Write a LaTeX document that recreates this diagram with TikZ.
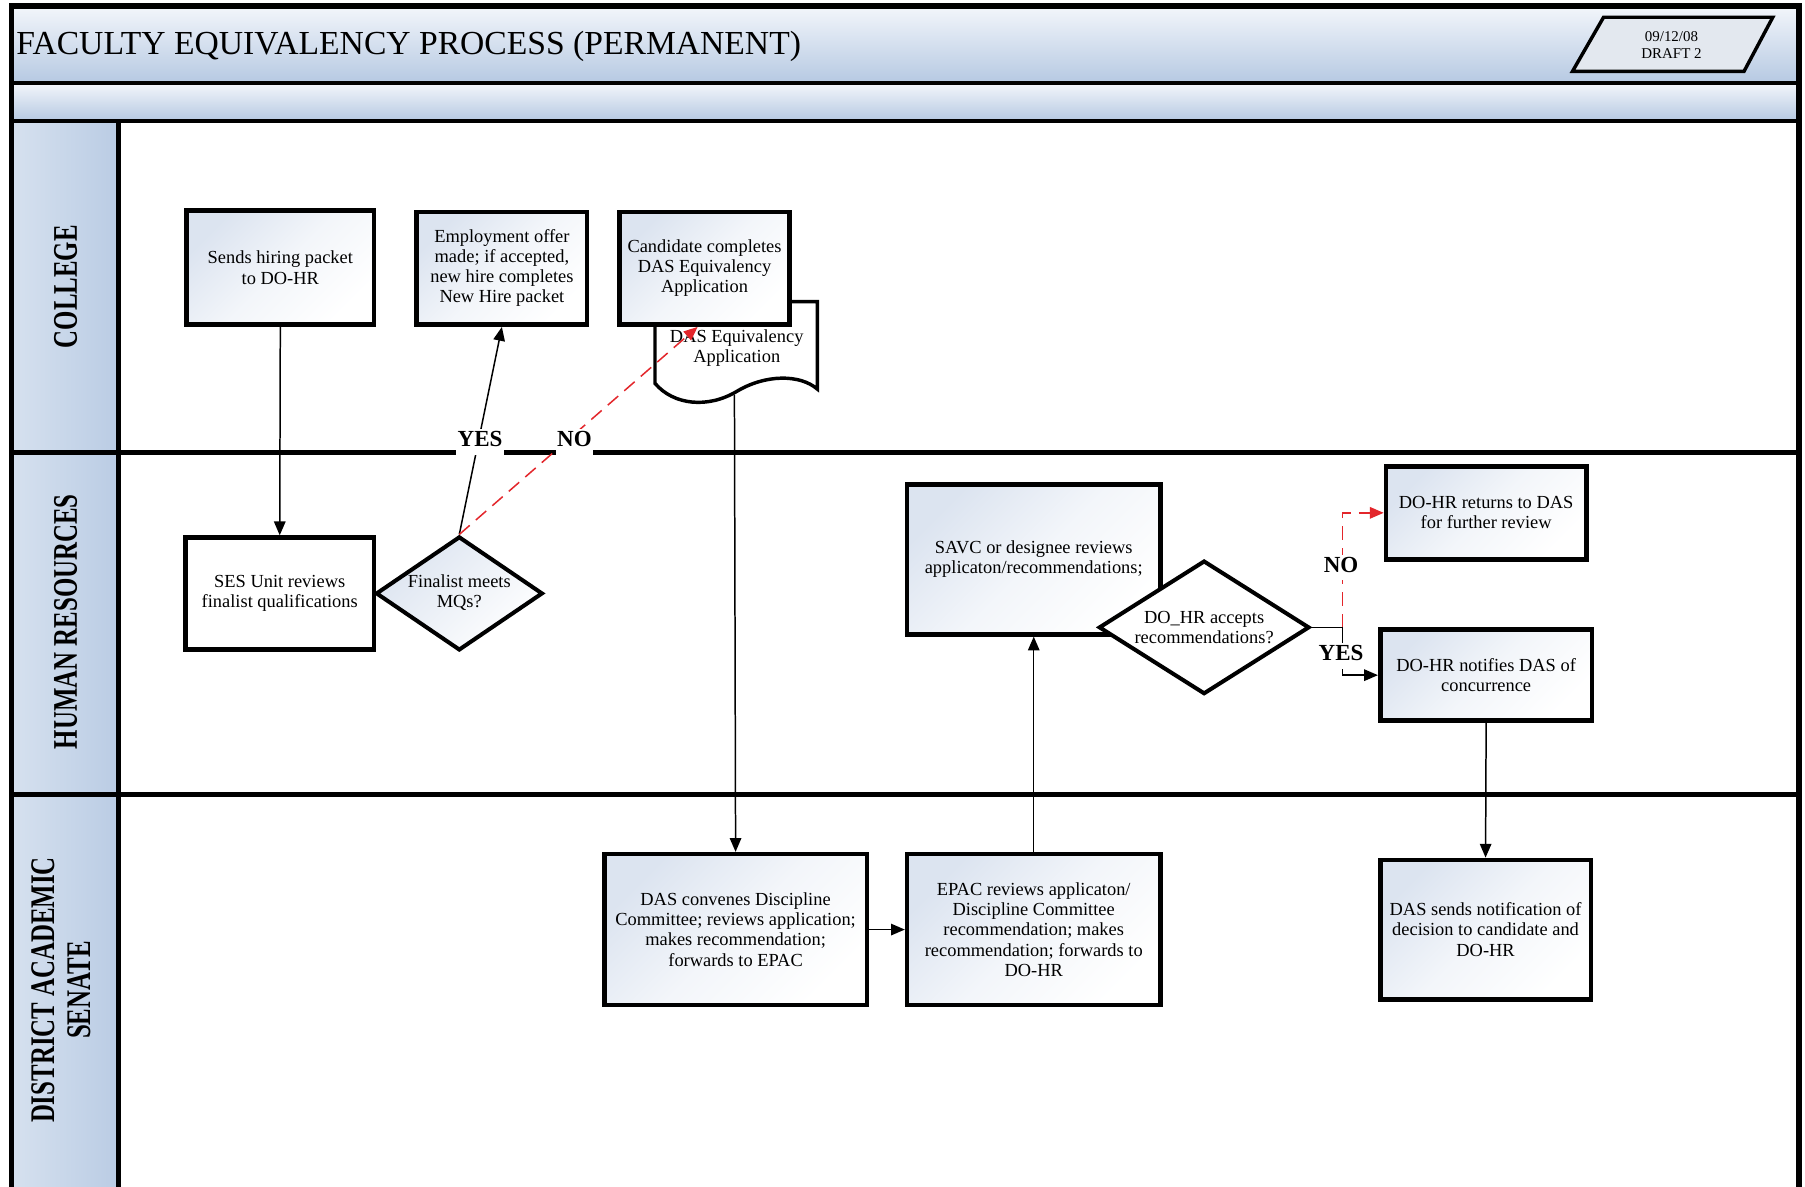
\documentclass[tikz,border=0pt]{standalone}
\usepackage{fontspec}
\setmainfont{Liberation Serif}
\usetikzlibrary{shapes.geometric,arrows.meta,calc}

\definecolor{bandlight}{HTML}{F3F6FB}
\definecolor{banddark}{HTML}{B6C9E2}
\definecolor{lanelight}{HTML}{D6E1EF}
\definecolor{lanedark}{HTML}{BACCE4}
\definecolor{boxtint}{HTML}{DCE4F0}
\definecolor{flowred}{HTML}{E3262B}
\definecolor{datefill}{HTML}{E3E8EF}

\tikzset{
  procbox/.style={draw=black, line width=4pt, top color=boxtint, bottom color=white,
    middle color=boxtint!35, shading angle=45, align=center, inner sep=2pt,
    font=\fontsize{16}{17.5}\selectfont},
  decision/.style={draw=black, line width=3.5pt, diamond, inner sep=0pt,
    top color=boxtint, bottom color=white, shading angle=45},
  boxtext/.style={align=center, inner sep=0pt, font=\fontsize{16}{17.5}\selectfont},
  flow/.style={line width=1.3pt, -{Triangle[length=12pt,width=10pt]}},
  noflow/.style={flow, draw=flowred, dash pattern=on 12pt off 7pt},
  answer/.style={fill=white, inner xsep=1pt, inner ysep=2pt, text depth=5pt,
    anchor=base, font=\fontsize{20}{20}\selectfont\bfseries},
  lanetitle/.style={rotate=90, align=center, inner sep=0pt,
    font=\fontsize{30}{28}\selectfont\bfseries},
  rule/.style={line width=4pt},
}

\begin{document}
\begin{tikzpicture}[x=1pt, y=-1pt]
\useasboundingbox (0,0) rectangle (1568,1031);
\clip (0,0) rectangle (1568,1031);

% background and header bands
\fill[white] (0,0) rectangle (1568,1031);
\shade[top color=bandlight, bottom color=banddark] (10,5) rectangle (1563,72);
\shade[top color=bandlight, bottom color=banddark] (10,72) rectangle (1563,105);
\shade[left color=lanelight, right color=lanedark] (10,105) rectangle (103,1045);

% frame and lane rules
\draw[rule] (10,72) -- (1563,72);
\draw[rule] (10,105) -- (1563,105);
\draw[rule] (10,393) -- (1563,393);
\draw[rule] (10,690) -- (1563,690);
\draw[line width=5pt] (103,105) -- (103,1045);
\draw[line width=5pt] (10,1045) -- (10,5) -- (1563,5) -- (1563,1045);

% title and date tag
\node[anchor=west, inner sep=0pt, font=\fontsize{29.2}{30}\selectfont] (title)
  at (14,40) {FACULTY EQUIVALENCY PROCESS (PERMANENT)};
\draw[line width=3pt, fill=datefill] (1393,15) -- (1540,15) -- (1515,62) -- (1366,62) -- cycle;
\node[align=center, inner sep=0pt, font=\fontsize{13}{15}\selectfont] (date)
  at (1452,39) {09/12/08\\DRAFT 2};

% lane titles
\node[lanetitle] (lcollege) at (57,249) {\scalebox{0.72}[1]{COLLEGE}};
\node[lanetitle] (lhr) at (57,540) {\scalebox{0.72}[1]{HUMAN RESOURCES}};
\node[lanetitle] (ldas) at (57,860)
  {\scalebox{0.72}[1]{\begin{tabular}{@{}c@{}}DISTRICT ACADEMIC\\[3pt]SENATE\end{tabular}}};

% document shape behind the candidate box
\draw[line width=3pt, fill=white] (569,262) -- (710,262) -- (710,338)
  .. controls (695,325) and (665,325) .. (640,340)
  .. controls (615,355) and (585,352) .. (569,333) -- cycle;
\node[boxtext] (doc) at (640,302) {DAS Equivalency\\Application};
\coordinate (docbot) at (638,343);

% college lane
\node[procbox, minimum width=163, minimum height=99] (hire) at (243.5,232.5)
  {Sends hiring packet\\to DO-HR};
\node[procbox, minimum width=148, minimum height=98] (offer) at (436,233)
  {Employment offer\\made; if accepted,\\new hire completes\\New Hire packet};
\node[procbox, minimum width=148, minimum height=98] (cand) at (612,233)
  {Candidate completes\\DAS Equivalency\\Application};

% human resources lane
\node[procbox, top color=white, bottom color=white, middle color=white,
  minimum width=164, minimum height=97] (ses) at (243,515.5)
  {SES Unit reviews\\finalist qualifications};
\node[decision, minimum width=145, minimum height=99] (mq) at (399,515.5) {};
\node[boxtext] (mqtext) at (399,515) {Finalist meets\\MQs?};

\node[procbox, minimum width=220, minimum height=130] (savc) at (898,486)
  {SAVC or designee reviews\\applicaton/recommendations;};
\node[decision, top color=white, minimum width=183, minimum height=116] (acc) at (1046,545) {};
\node[boxtext] (acctext) at (1046,545) {DO\_HR accepts\\recommendations?};

\node[procbox, minimum width=174, minimum height=81] (ret) at (1291,445.5)
  {DO-HR returns to DAS\\for further review};
\node[procbox, minimum width=184, minimum height=79] (notif) at (1291,586.5)
  {DO-HR notifies DAS of\\concurrence};

% district academic senate lane
\node[procbox, minimum width=228, minimum height=131] (conv) at (639,807.5)
  {DAS convenes Discipline\\Committee; reviews application;\\makes recommendation;\\forwards to EPAC};
\node[procbox, minimum width=220, minimum height=131] (epac) at (898,807.5)
  {EPAC reviews applicaton/\\Discipline Committee\\recommendation; makes\\recommendation; forwards to\\DO-HR};
\node[procbox, minimum width=183, minimum height=121] (send) at (1290.5,807.5)
  {DAS sends notification of\\decision to candidate and\\DO-HR};

% connectors
\draw[flow] (hire.south) -- (ses.north);
\draw[flow] (mq.north) -- (offer.south);
\draw[noflow] (mq.north) -- ([xshift=-6pt]cand.south);
\draw[flow] (docbot) -- (conv.north);
\draw[flow] (conv.east) -- (epac.west);
\draw[flow] (epac.north) -- (savc.south);

\coordinate (split) at (1166,545);
\draw[line width=1.3pt] (acc.east) -- (split);
\draw[noflow] (split) |- (ret.west);
\draw[flow] (split) |- (notif.west);
\draw[flow] (notif.south) -- (send.north);

% branch labels
\node[answer] (yes1) at (417,388) {YES};
\node[answer] (no1) at (499,388) {NO};
\node[answer] (no2) at (1165,497) {NO};
\node[answer] (yes2) at (1165,574) {YES};

\end{tikzpicture}
\end{document}
